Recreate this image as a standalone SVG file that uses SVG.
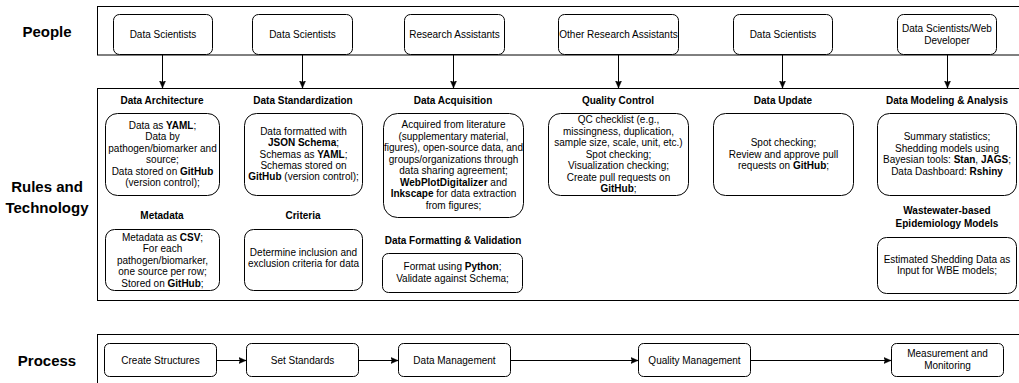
<svg xmlns="http://www.w3.org/2000/svg" width="1019" height="383" viewBox="0 0 1019 383">
<defs>
<style>
text{font-family:"Liberation Sans",Arial,Helvetica,sans-serif;fill:#000}
.lbl{font-size:15px;font-weight:bold;text-anchor:middle}
.hd{font-size:10px;font-weight:bold;text-anchor:middle}
.tx{font-size:10px;text-anchor:middle}
.b{font-weight:bold}
.cont{fill:#fff;stroke:#000;stroke-width:1}
.box{fill:#fff;stroke:#000;stroke-width:1}
.conn{fill:none;stroke:#000;stroke-width:1}
</style>
<marker id="arr" markerUnits="userSpaceOnUse" markerWidth="8" markerHeight="8" viewBox="0 0 8 8" refX="7.5" refY="4" orient="auto">
<path d="M0,0.8 L7.5,4 L0,7.2 L1.8,4 Z" fill="#000" stroke="#000" stroke-width="0.5"/>
</marker>
</defs>
<rect width="1019" height="383" fill="#fff"/>

<g id="labels">
<text class="lbl" x="47" y="37">People</text>
<text class="lbl" x="47" y="192">Rules and</text>
<text class="lbl" x="47" y="213">Technology</text>
<text class="lbl" x="47" y="366">Process</text>
</g>

<g id="containers">
<rect class="cont" x="97.5" y="6.5" width="940" height="48.5"/>
<rect class="cont" x="97.5" y="88.5" width="940" height="212"/>
<rect class="cont" x="97.5" y="334.5" width="940" height="60"/>
</g>

<g id="connectors">
<line class="conn" x1="162.5" y1="55" x2="162.5" y2="88" marker-end="url(#arr)"/>
<line class="conn" x1="302.5" y1="55" x2="302.5" y2="88" marker-end="url(#arr)"/>
<line class="conn" x1="453.5" y1="55" x2="453.5" y2="88" marker-end="url(#arr)"/>
<line class="conn" x1="618.5" y1="55" x2="618.5" y2="88" marker-end="url(#arr)"/>
<line class="conn" x1="782.5" y1="55" x2="782.5" y2="88" marker-end="url(#arr)"/>
<line class="conn" x1="947.5" y1="55" x2="947.5" y2="88" marker-end="url(#arr)"/>
<line class="conn" x1="216" y1="360.5" x2="246" y2="360.5" marker-end="url(#arr)"/>
<line class="conn" x1="358" y1="360.5" x2="398" y2="360.5" marker-end="url(#arr)"/>
<line class="conn" x1="510" y1="360.5" x2="638" y2="360.5" marker-end="url(#arr)"/>
<line class="conn" x1="750" y1="360.5" x2="891" y2="360.5" marker-end="url(#arr)"/>
</g>

<g id="people-1">
<rect class="box" x="113.5" y="14.5" width="99" height="40" rx="6"/>
<text class="tx" x="163" y="38">Data Scientists</text>
</g>
<g id="people-2">
<rect class="box" x="252.5" y="14.5" width="100" height="40" rx="6"/>
<text class="tx" x="302.5" y="38">Data Scientists</text>
</g>
<g id="people-3">
<rect class="box" x="404.5" y="14.5" width="100" height="40" rx="6"/>
<text class="tx" x="454.5" y="38">Research Assistants</text>
</g>
<g id="people-4">
<rect class="box" x="558.5" y="14.5" width="120" height="40" rx="6"/>
<text class="tx" x="618.5" y="38">Other Research Assistants</text>
</g>
<g id="people-5">
<rect class="box" x="733.5" y="14.5" width="99" height="40" rx="6"/>
<text class="tx" x="783" y="38">Data Scientists</text>
</g>
<g id="people-6">
<rect class="box" x="897.5" y="14.5" width="99" height="40" rx="6"/>
<text class="tx" x="947" y="32">Data Scientists/Web</text>
<text class="tx" x="947" y="44">Developer</text>
</g>

<g id="data-architecture">
<text class="hd" x="162" y="104">Data Architecture</text>
<rect class="box" x="105.5" y="113.5" width="114" height="82" rx="12"/>
<text class="tx" x="162.5"><tspan x="162.5" y="128.8">Data as <tspan class="b">YAML</tspan>;</tspan><tspan x="162.5" y="140.3">Data by</tspan><tspan x="162.5" y="151.8">pathogen/biomarker and</tspan><tspan x="162.5" y="163.3">source;</tspan><tspan x="162.5" y="174.8">Data stored on <tspan class="b">GitHub</tspan></tspan><tspan x="162.5" y="186.3">(version control);</tspan></text>
</g>

<g id="metadata">
<text class="hd" x="162" y="218.5">Metadata</text>
<rect class="box" x="105.5" y="229.5" width="114" height="61" rx="9"/>
<text class="tx"><tspan x="162.5" y="240.5">Metadata as <tspan class="b">CSV</tspan>;</tspan><tspan x="162.5" y="252">For each</tspan><tspan x="162.5" y="263.5">pathogen/biomarker,</tspan><tspan x="162.5" y="275">one source per row;</tspan><tspan x="162.5" y="286.5">Stored on <tspan class="b">GitHub</tspan>;</tspan></text>
</g>

<g id="data-standardization">
<text class="hd" x="303" y="104">Data Standardization</text>
<rect class="box" x="244.5" y="113.5" width="118" height="82" rx="12"/>
<text class="tx"><tspan x="303.5" y="135">Data formatted with</tspan><tspan x="303.5" y="146.3"><tspan class="b">JSON Schema</tspan>;</tspan><tspan x="303.5" y="157.6">Schemas as <tspan class="b">YAML</tspan>;</tspan><tspan x="303.5" y="168.9">Schemas stored on</tspan><tspan x="303.5" y="180.2"><tspan class="b">GitHub</tspan> (version control);</tspan></text>
</g>

<g id="criteria">
<text class="hd" x="303" y="218.5">Criteria</text>
<rect class="box" x="244.5" y="229.5" width="118" height="61" rx="9"/>
<text class="tx"><tspan x="303.5" y="255.5">Determine inclusion and</tspan><tspan x="303.5" y="267">exclusion criteria for data</tspan></text>
</g>

<g id="data-acquisition">
<text class="hd" x="453" y="104">Data Acquisition</text>
<rect class="box" x="383.5" y="113.5" width="140" height="104" rx="14"/>
<text class="tx"><tspan x="453.5" y="128.3">Acquired from literature</tspan><tspan x="453.5" y="139.8">(supplementary material,</tspan><tspan x="453.5" y="151.3">figures), open-source data, and</tspan><tspan x="453.5" y="162.8">groups/organizations through</tspan><tspan x="453.5" y="174.3">data sharing agreement;</tspan><tspan x="453.5" y="185.8"><tspan class="b">WebPlotDigitalizer</tspan> and</tspan><tspan x="453.5" y="197.3"><tspan class="b">Inkscape</tspan> for data extraction</tspan><tspan x="453.5" y="208.8">from figures;</tspan></text>
</g>

<g id="data-formatting">
<text class="hd" x="453" y="244">Data Formatting &amp; Validation</text>
<rect class="box" x="382.5" y="253.5" width="140" height="39" rx="6"/>
<text class="tx"><tspan x="452.5" y="270">Format using <tspan class="b">Python</tspan>;</tspan><tspan x="452.5" y="281.5">Validate against Schema;</tspan></text>
</g>

<g id="quality-control">
<text class="hd" x="618" y="104">Quality Control</text>
<rect class="box" x="548.5" y="113.5" width="140" height="82" rx="12"/>
<text class="tx"><tspan x="618.5" y="123">QC checklist (e.g.,</tspan><tspan x="618.5" y="134.5">missingness, duplication,</tspan><tspan x="618.5" y="146">sample size, scale, unit, etc.)</tspan><tspan x="618.5" y="157.5">Spot checking;</tspan><tspan x="618.5" y="169">Visualization checking;</tspan><tspan x="618.5" y="180.5">Create pull requests on</tspan><tspan x="618.5" y="192"><tspan class="b">GitHub</tspan>;</tspan></text>
</g>

<g id="data-update">
<text class="hd" x="783" y="104">Data Update</text>
<rect class="box" x="713.5" y="113.5" width="140" height="82" rx="12"/>
<text class="tx"><tspan x="783.5" y="146">Spot checking;</tspan><tspan x="783.5" y="157.5">Review and approve pull</tspan><tspan x="783.5" y="169">requests on <tspan class="b">GitHub</tspan>;</tspan></text>
</g>

<g id="data-modeling">
<text class="hd" x="947" y="104">Data Modeling &amp; Analysis</text>
<rect class="box" x="877.5" y="113.5" width="139" height="82" rx="12"/>
<text class="tx"><tspan x="947" y="140.3">Summary statistics;</tspan><tspan x="947" y="151.8">Shedding models using</tspan><tspan x="947" y="163.3">Bayesian tools: <tspan class="b">Stan</tspan>, <tspan class="b">JAGS</tspan>;</tspan><tspan x="947" y="174.8">Data Dashboard: <tspan class="b">Rshiny</tspan></tspan></text>
</g>

<g id="wbe-models">
<text class="hd"><tspan x="947" y="214">Wastewater-based</tspan><tspan x="947" y="227">Epidemiology Models</tspan></text>
<rect class="box" x="877.5" y="237.5" width="139" height="56" rx="9"/>
<text class="tx"><tspan x="947" y="262.8">Estimated Shedding Data as</tspan><tspan x="947" y="274.3">Input for WBE models;</tspan></text>
</g>

<g id="process-1">
<rect class="box" x="104.5" y="343.5" width="112" height="33" rx="5"/>
<text class="tx" x="160.5" y="363.5">Create Structures</text>
</g>
<g id="process-2">
<rect class="box" x="246.5" y="343.5" width="112" height="33" rx="5"/>
<text class="tx" x="302.5" y="363.5">Set Standards</text>
</g>
<g id="process-3">
<rect class="box" x="398.5" y="343.5" width="112" height="33" rx="5"/>
<text class="tx" x="454.5" y="363.5">Data Management</text>
</g>
<g id="process-4">
<rect class="box" x="638.5" y="343.5" width="112" height="33" rx="5"/>
<text class="tx" x="694.5" y="363.5">Quality Management</text>
</g>
<g id="process-5">
<rect class="box" x="891.5" y="343.5" width="112" height="33" rx="5"/>
<text class="tx"><tspan x="947.5" y="357">Measurement and</tspan><tspan x="947.5" y="369">Monitoring</tspan></text>
</g>
</svg>
